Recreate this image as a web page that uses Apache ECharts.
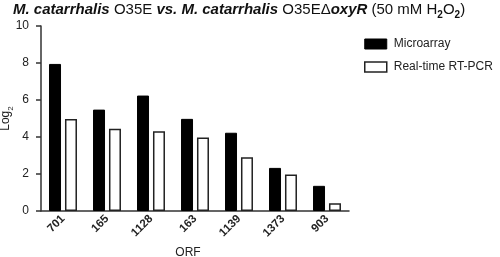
<!DOCTYPE html>
<html><head><meta charset="utf-8">
<script src="https://cdn.jsdelivr.net/npm/echarts@6/dist/echarts.min.js"></script>
<style>html,body{margin:0;padding:0;background:#fff}#c{width:500px;height:257px}</style>
</head><body><div id="c"></div>
<script>
const categories = ['701','165','1128','163','1139','1373','903'];
const microarray = [7.95, 5.48, 6.24, 4.98, 4.23, 2.33, 1.36];
const rtpcr = [4.97, 4.45, 4.31, 3.97, 2.90, 1.97, 0.42];
const yTicks = {min: 0, max: 10, interval: 2};

const FONT = 'Liberation Sans, Arial, sans-serif';
const chart = echarts.init(document.getElementById('c'), null, {renderer: 'canvas'});
chart.setOption({
  animation: false,
  backgroundColor: '#fff',
  textStyle: {fontFamily: FONT},
  title: {
    left: 13, top: -3, padding: [0,0,0,0],
    text: '{bi|M. catarrhalis}{n| O35E }{bi|vs. M. catarrhalis}{n| O35EΔ}{bi|oxyR}{n| (50 mM H}{s|2}{n|O}{s|2}{n|)}',
    textStyle: {
      rich: {
        bi: {fontFamily: FONT, fontSize: 15, fontStyle: 'italic', fontWeight: 'bold', color: '#111', lineHeight: 20, verticalAlign: 'bottom'},
        n: {fontFamily: FONT, fontSize: 15, fontWeight: 'normal', color: '#111', lineHeight: 20, verticalAlign: 'bottom'},
        s: {fontFamily: FONT, fontSize: 10, color: '#111', lineHeight: 16, verticalAlign: 'bottom', padding: [0,0,-3,0]}
      }
    }
  },
  legend: {
    orient: 'vertical', left: 359, top: 33, itemWidth: 22, itemHeight: 10, itemGap: 11, icon: 'rect',
    textStyle: {fontFamily: FONT, fontSize: 12, color: '#222', padding: [0,0,0,2]},
    data: [
      {name: 'Microarray', itemStyle: {color: '#000', borderColor: '#000', borderWidth: 1}},
      {name: 'Real-time RT-PCR', itemStyle: {color: '#fff', borderColor: '#222', borderWidth: 1.5}}
    ]
  },
  grid: {left: 41, right: 151, top: 26, bottom: 46, containLabel: false, outerBoundsMode: 'none'},
  xAxis: {
    type: 'category', data: categories,
    name: 'ORF', nameLocation: 'middle', nameGap: 36, nameMoveOverlap: false,
    nameTextStyle: {fontFamily: FONT, fontSize: 12, color: '#222', padding: [0, 14, 0, 0]},
    axisLine: {lineStyle: {color: '#333', width: 1.5}},
    axisTick: {alignWithLabel: true, length: 4, lineStyle: {color: '#333', width: 1.5}},
    axisLabel: {rotate: 45, fontFamily: FONT, fontSize: 11.5, fontWeight: 'bold', color: '#222', margin: 6}
  },
  yAxis: {
    type: 'value', min: yTicks.min, max: yTicks.max, interval: yTicks.interval,
    name: 'Log{s|2}', nameLocation: 'middle', nameGap: 29, nameRotate: 90, nameMoveOverlap: false,
    nameTextStyle: {fontFamily: FONT, fontSize: 12, color: '#222',
      rich: {s: {fontFamily: FONT, fontSize: 8, color: '#222', padding: [0,0,-3,0], verticalAlign: 'bottom'}}},
    axisLine: {show: true, lineStyle: {color: '#333', width: 1.5}},
    axisTick: {show: true, length: 5, lineStyle: {color: '#333', width: 1.5}},
    axisLabel: {fontFamily: FONT, fontSize: 12, color: '#222', margin: 12},
    splitLine: {show: false}
  },
  series: [
    {name: 'Microarray', type: 'bar', data: microarray, barWidth: 12, barGap: '33%',
     itemStyle: {color: '#000', borderColor: '#000', borderWidth: 1}},
    {name: 'Real-time RT-PCR', type: 'bar', data: rtpcr, barWidth: 12,
     itemStyle: {color: '#fff', borderColor: '#222', borderWidth: 1.5}}
  ]
});
</script></body></html>
